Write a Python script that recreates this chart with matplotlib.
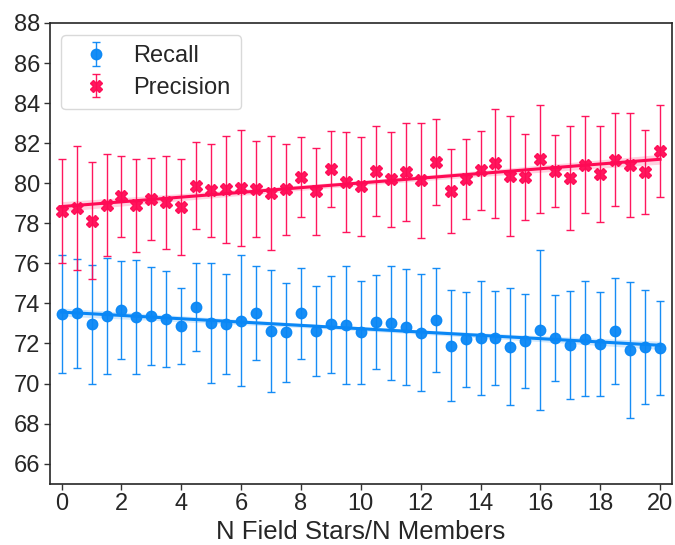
import numpy as np
import matplotlib
matplotlib.use("Agg")
import matplotlib.pyplot as plt

plt.rcParams['font.family'] = ['Liberation Sans', 'DejaVu Sans']

# Ratio of field stars to members
ratio = [0.0, 0.5, 1.0, 1.5, 2.0, 2.5, 3.0, 3.5, 4.0, 4.5,
         5.0, 5.5, 6.0, 6.5, 7.0, 7.5, 8.0, 8.5, 9.0, 9.5,
         10.0, 10.5, 11.0, 11.5, 12.0, 12.5, 13.0, 13.5, 14.0, 14.5,
         15.0, 15.5, 16.0, 16.5, 17.0, 17.5, 18.0, 18.5, 19.0, 19.5, 20.0]

recall = [73.48, 73.52, 72.95, 73.37, 73.67, 73.33, 73.38, 73.22, 72.87, 73.83,
          73.02, 72.98, 73.13, 73.52, 72.61, 72.55, 73.52, 72.64, 72.95, 72.92,
          72.55, 73.08, 73.02, 72.84, 72.54, 73.17, 71.88, 72.20, 72.27, 72.27,
          71.84, 72.14, 72.67, 72.27, 71.92, 72.24, 71.97, 72.62, 71.67, 71.84, 71.78]
recall_err = [2.96, 2.72, 2.95, 2.90, 2.43, 2.83, 2.45, 2.39, 1.90, 2.20,
              3.00, 2.50, 3.27, 2.35, 3.05, 2.45, 2.27, 2.25, 2.42, 2.96,
              2.57, 2.34, 2.85, 2.90, 2.92, 2.60, 2.77, 2.36, 2.85, 2.34,
              2.91, 2.35, 3.98, 2.14, 2.71, 2.87, 2.60, 2.66, 3.38, 2.85, 2.36]

precision = [78.62, 78.77, 78.12, 78.92, 79.34, 78.89, 79.20, 79.04, 78.82, 79.88,
             79.65, 79.70, 79.77, 79.72, 79.52, 79.69, 80.30, 79.60, 80.70, 80.07,
             79.84, 80.60, 80.21, 80.56, 80.15, 81.06, 79.60, 80.21, 80.65, 81.00,
             80.38, 80.30, 81.23, 80.63, 80.26, 80.93, 80.46, 81.18, 80.93, 80.55, 81.61]
precision_err = [2.60, 3.10, 2.92, 2.56, 2.00, 2.30, 2.05, 2.30, 2.38, 2.18,
                 2.31, 2.68, 2.90, 2.39, 2.86, 2.25, 2.00, 2.18, 1.90, 2.50,
                 2.45, 2.26, 2.37, 2.45, 2.88, 2.15, 2.10, 2.00, 1.98, 2.73,
                 3.00, 2.15, 2.70, 1.80, 2.58, 2.42, 2.42, 2.32, 2.60, 2.10, 2.30]

x_ticks = [0, 2, 4, 6, 8, 10, 12, 14, 16, 18, 20]
y_ticks = [66, 68, 70, 72, 74, 76, 78, 80, 82, 84, 86, 88]

BLUE = "#0a87f5"
PINK = "#ff0a55"


def fit_with_band(ax, x, y, color):
    x = np.asarray(x, float)
    y = np.asarray(y, float)
    n = len(x)
    slope, intercept = np.polyfit(x, y, 1)
    grid = np.linspace(x.min(), x.max(), 100)
    pred = intercept + slope * grid
    resid = y - (intercept + slope * x)
    s = np.sqrt(np.sum(resid ** 2) / (n - 2))
    se = s * np.sqrt(1.0 / n + (grid - x.mean()) ** 2 / np.sum((x - x.mean()) ** 2))
    band = 2.02 * se
    ax.fill_between(grid, pred - band, pred + band, color=color, alpha=0.18, lw=0, zorder=2)
    ax.plot(grid, pred, color=color, lw=2.2, zorder=3)


fig = plt.figure(figsize=(6.75, 5.45), dpi=100)
ax = fig.add_axes([0.0736, 0.1125, 0.922, 0.8453])

ax.errorbar(ratio, recall, yerr=recall_err, fmt='o', color=BLUE, ms=7.5,
            ecolor=BLUE, elinewidth=1.0, capsize=3, capthick=1.0, alpha=0.95,
            label='Recall', zorder=4)
ax.errorbar(ratio, precision, yerr=precision_err, fmt='X', color=PINK, ms=8,
            ecolor=PINK, elinewidth=1.0, capsize=3, capthick=1.0, alpha=0.95,
            label='Precision', zorder=4)

fit_with_band(ax, ratio, recall, BLUE)
fit_with_band(ax, ratio, precision, PINK)

ax.set_xlim(-0.4, 20.4)
ax.set_ylim(65, 88)
ax.set_xticks(x_ticks)
ax.set_yticks(y_ticks)
ax.tick_params(labelsize=17, length=4, width=1, color='#333333', labelcolor='#262626', pad=3)
for sp in ax.spines.values():
    sp.set_color('#262626')
    sp.set_linewidth(1.2)

ax.set_xlabel('N Field Stars/N Members', fontsize=18.5, color='#262626', labelpad=3)

leg = ax.legend(loc='upper left', fontsize=17, frameon=True, borderpad=0.45,
                handletextpad=0.6, labelspacing=0.4, borderaxespad=0.5,
                handlelength=2.0)
leg.get_frame().set_edgecolor('#d0d0d0')
for t in leg.get_texts():
    t.set_color('#262626')

fig.savefig('out.png', dpi=100)
